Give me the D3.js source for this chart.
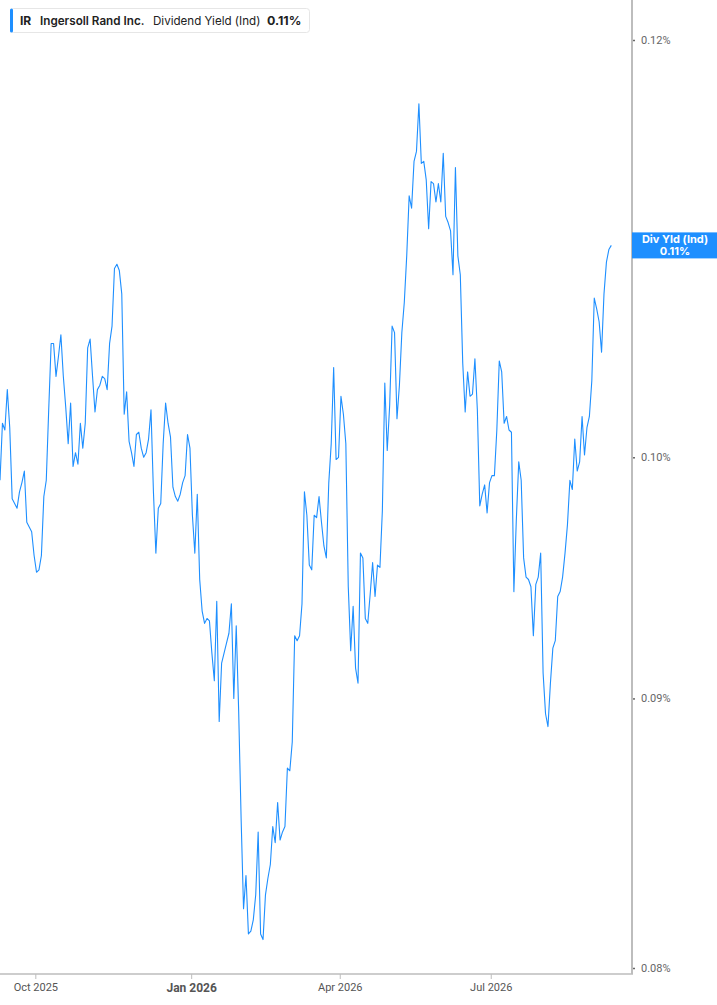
<!DOCTYPE html>
<html>
<head>
<meta charset="utf-8">
<script src="https://cdn.jsdelivr.net/npm/d3@7"></script>
<style>
  body { margin: 0; background: #fff; }
  text { font-family: Inter, "Noto Sans", sans-serif; }
</style>
</head>
<body>
<div id="chart"></div>
<script>
// dividend yield (%) per trading day
var yieldValues = [
  0.0990, 0.1015, 0.1012, 0.1030, 0.1013, 0.0982, 0.0980, 0.0978, 0.0985, 0.0989,
  0.0994, 0.0972, 0.0970, 0.0968, 0.0958, 0.0951, 0.0952, 0.0958, 0.0983, 0.0990,
  0.1021, 0.1051, 0.1051, 0.1036, 0.1045, 0.1055, 0.1036, 0.1022, 0.1006, 0.1024,
  0.0996, 0.1002, 0.0997, 0.1015, 0.1004, 0.1015, 0.1049, 0.1053, 0.1036, 0.1020,
  0.1030, 0.1032, 0.1036, 0.1035, 0.1030, 0.1051, 0.1059, 0.1086, 0.1088, 0.1085,
  0.1074, 0.1019, 0.1029, 0.1007, 0.1002, 0.0996, 0.1010, 0.1011, 0.1004, 0.1000,
  0.1002, 0.1008, 0.1021, 0.0985, 0.0959, 0.0978, 0.0980, 0.1006, 0.1024, 0.1015,
  0.1009, 0.0987, 0.0983, 0.0981, 0.0984, 0.0989, 0.0992, 0.1010, 0.1004, 0.0975,
  0.0959, 0.0984, 0.0948, 0.0935, 0.0930, 0.0932, 0.0931, 0.0918, 0.0907, 0.0939,
  0.0891, 0.0914, 0.0918, 0.0922, 0.0926, 0.0938, 0.0900, 0.0929, 0.0895, 0.0854,
  0.0821, 0.0833, 0.0812, 0.0813, 0.0817, 0.0826, 0.0849, 0.0812, 0.0810, 0.0826,
  0.0832, 0.0837, 0.0851, 0.0845, 0.0860, 0.0846, 0.0849, 0.0851, 0.0873, 0.0872,
  0.0883, 0.0925, 0.0923, 0.0925, 0.0938, 0.0985, 0.0975, 0.0954, 0.0952, 0.0975,
  0.0974, 0.0983, 0.0972, 0.0962, 0.0957, 0.0989, 0.1006, 0.1040, 0.0999, 0.1000,
  0.1027, 0.1019, 0.1006, 0.0945, 0.0919, 0.0937, 0.0912, 0.0906, 0.0959, 0.0957,
  0.0932, 0.0930, 0.0942, 0.0955, 0.0941, 0.0954, 0.0953, 0.0977, 0.1033, 0.1003,
  0.1023, 0.1059, 0.1056, 0.1017, 0.1032, 0.1056, 0.1070, 0.1092, 0.1121, 0.1115,
  0.1138, 0.1143, 0.1167, 0.1137, 0.1138, 0.1129, 0.1105, 0.1128, 0.1127, 0.1118,
  0.1127, 0.1118, 0.1142, 0.1111, 0.1108, 0.1104, 0.1083, 0.1135, 0.1092, 0.1083,
  0.1042, 0.1020, 0.1038, 0.1027, 0.1028, 0.1044, 0.1021, 0.0979, 0.0984, 0.0988,
  0.0976, 0.0989, 0.0992, 0.0992, 0.1012, 0.1043, 0.1038, 0.1015, 0.1018, 0.1012,
  0.1011, 0.0943, 0.0973, 0.0998, 0.0990, 0.0957, 0.0949, 0.0948, 0.0945, 0.0925,
  0.0946, 0.0949, 0.0959, 0.0910, 0.0894, 0.0889, 0.0906, 0.0920, 0.0923, 0.0941,
  0.0943, 0.0949, 0.0959, 0.0971, 0.0990, 0.0986, 0.1008, 0.0994, 0.0998, 0.1018,
  0.1001, 0.1013, 0.1018, 0.1034, 0.1072, 0.1067, 0.1061, 0.1047, 0.1074, 0.1089,
  0.1095, 0.1097
];

// month labels and the trading-day index where each one sits
var monthLabels = ["Oct 2025", "Jan 2026", "Apr 2026", "Jul 2026"];
var monthIndex = [14.5, 78.5, 139.5, 201.5];

// right axis ticks (%)
var yTicks = [0.08, 0.09, 0.10, 0.12];

var ticker = "IR",
    company = "Ingersoll Rand Inc.",
    metric = "Dividend Yield (Ind)",
    tagName = "Div Yld (Ind)";

var W = 717, H = 1005,
    plotRight = 632,
    plotBottom = 974,
    blue = "#1e8fff";

var svg = d3.select("#chart")
  .append("svg")
    .attr("width", W)
    .attr("height", H);

// x: trading day index, y: log scale of the yield
var x = d3.scaleLinear()
  .domain([0, 259.5])
  .range([0, plotRight]);

var y = d3.scaleLog()
  .domain([0.08, 0.12])
  .range([968, 40]);

var fmt = function(v) { return v.toFixed(2) + "%"; };

// the yield line
svg.append("path")
  .datum(yieldValues)
  .attr("fill", "none")
  .attr("stroke", blue)
  .attr("stroke-width", 1.1)
  .attr("stroke-linejoin", "round")
  .attr("d", d3.line()
    .x(function(d, i) { return x(i); })
    .y(function(d) { return y(d); }));

// right axis
var yAxis = d3.axisRight(y)
  .tickValues(yTicks)
  .tickSize(3)
  .tickPadding(6)
  .tickFormat(fmt);

var gy = svg.append("g")
  .attr("transform", "translate(" + plotRight + ",0)")
  .call(yAxis);
gy.select(".domain").remove();
gy.selectAll(".tick line").attr("stroke", "#666").attr("stroke-width", 1.5);
gy.selectAll(".tick text")
  .attr("fill", "#666")
  .style("font-size", "11px")
  .style("font-family", "Roboto, sans-serif");

svg.append("line")
  .attr("x1", plotRight).attr("x2", plotRight)
  .attr("y1", 0).attr("y2", plotBottom)
  .attr("stroke", "#bdbdbd")
  .attr("stroke-width", 2);

// bottom axis
var xAxis = d3.axisBottom(x)
  .tickValues(monthIndex)
  .tickSize(5)
  .tickPadding(4)
  .tickFormat(function(d, i) { return monthLabels[i]; });

var gx = svg.append("g")
  .attr("transform", "translate(0," + plotBottom + ")")
  .call(xAxis);
gx.select(".domain").remove();
gx.selectAll(".tick line").attr("stroke", "#bdbdbd");
gx.selectAll(".tick text")
  .attr("fill", "#555")
  .style("font-family", "Roboto, sans-serif")
  .style("font-weight", function(d, i) { return monthLabels[i].indexOf("Jan") === 0 ? "bold" : "normal"; })
  .style("font-size", function(d, i) { return monthLabels[i].indexOf("Jan") === 0 ? "12px" : "11px"; });

svg.append("line")
  .attr("x1", 0).attr("x2", plotRight + 1)
  .attr("y1", plotBottom).attr("y2", plotBottom)
  .attr("stroke", "#bdbdbd")
  .attr("stroke-width", 1.5);

// current value tag on the right axis
var last = yieldValues[yieldValues.length - 1];
var tagY = y(last);
svg.append("rect")
  .attr("x", plotRight)
  .attr("y", tagY - 13)
  .attr("width", W - plotRight)
  .attr("height", 26)
  .attr("fill", blue);
svg.append("text")
  .attr("x", 675).attr("y", tagY - 2)
  .attr("text-anchor", "middle")
  .attr("fill", "#fff")
  .style("font-size", "11px")
  .style("font-weight", "bold")
  .text(tagName);
svg.append("text")
  .attr("x", 675).attr("y", tagY + 10)
  .attr("text-anchor", "middle")
  .attr("fill", "#fff")
  .style("font-size", "11px")
  .style("font-weight", "bold")
  .text(fmt(last));

// legend box at top left
var legend = svg.append("g");
legend.append("rect")
  .attr("x", 10.5).attr("y", 8.5)
  .attr("width", 299).attr("height", 24)
  .attr("rx", 3)
  .attr("fill", "#fff")
  .attr("stroke", "#e6e6e6");
legend.append("rect")
  .attr("x", 10).attr("y", 8.5)
  .attr("width", 3).attr("height", 24)
  .attr("rx", 1.5)
  .attr("fill", blue);

var lt = legend.append("text")
  .attr("x", 20).attr("y", 25)
  .attr("fill", "#222")
  .style("font-size", "12px");
lt.append("tspan").style("font-weight", "bold").text(ticker);
lt.append("tspan").attr("x", 40).style("font-weight", 600).style("font-size", "11.7px").text(company);
lt.append("tspan").attr("x", 153).style("font-weight", "normal").style("font-size", "11.6px").text(metric);
lt.append("tspan").attr("x", 267).style("font-weight", "bold").style("font-size", "12.4px").text(fmt(last));
</script>
</body>
</html>
